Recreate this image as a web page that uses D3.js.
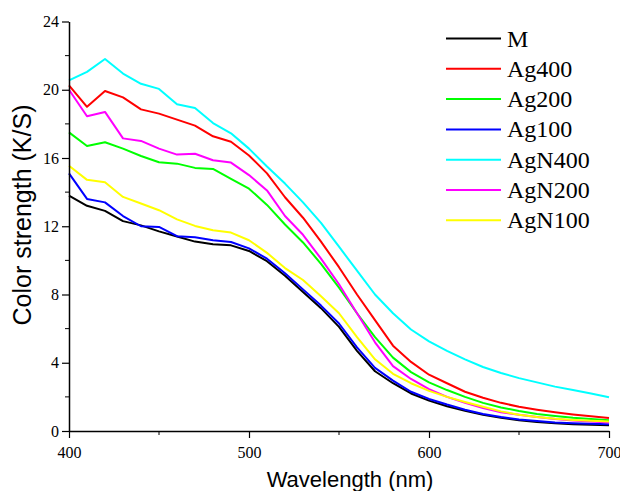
<!DOCTYPE html>
<html>
<head>
<meta charset="utf-8">
<script src="https://cdn.jsdelivr.net/npm/d3@7"></script>
<style>
  html, body { margin: 0; padding: 0; background: #fff; }
  svg { display: block; }
</style>
</head>
<body>
<svg id="chart" width="620" height="491"></svg>
<script>
const wavelengths = d3.range(400, 701, 10);

const M      = [13.8,13.2,12.9,12.3,12.05,11.7,11.4,11.1,10.95,10.88,10.55,9.95,9.1,8.15,7.2,6.1,4.7,3.5,2.8,2.2,1.78,1.45,1.18,0.95,0.77,0.63,0.52,0.45,0.4,0.36,0.33];
const Ag400  = [20.26,19.0,19.93,19.55,18.85,18.6,18.25,17.9,17.27,16.95,16.15,15.1,13.7,12.5,11.1,9.6,8.0,6.5,5.0,4.05,3.3,2.8,2.3,1.95,1.65,1.42,1.25,1.1,0.97,0.86,0.76];
const Ag200  = [17.5,16.7,16.92,16.55,16.12,15.75,15.67,15.42,15.36,14.78,14.2,13.25,12.1,11.05,9.8,8.4,6.9,5.5,4.3,3.45,2.85,2.4,2.0,1.65,1.38,1.17,1.0,0.88,0.77,0.7,0.63];
const Ag100  = [15.1,13.6,13.4,12.6,12.0,11.96,11.42,11.35,11.18,11.08,10.7,10.1,9.25,8.3,7.35,6.3,4.9,3.7,2.95,2.3,1.88,1.55,1.25,1.0,0.82,0.68,0.58,0.5,0.45,0.42,0.4];
const AgN400 = [20.55,21.05,21.8,20.95,20.35,20.05,19.15,18.93,18.05,17.45,16.55,15.5,14.5,13.4,12.2,10.8,9.4,8.0,6.9,5.95,5.25,4.7,4.2,3.75,3.4,3.1,2.85,2.6,2.4,2.2,1.98];
const AgN200 = [20.0,18.45,18.7,17.15,17.0,16.55,16.2,16.25,15.87,15.73,15.0,14.1,12.6,11.5,10.1,8.6,6.9,5.2,3.8,3.05,2.45,2.0,1.65,1.35,1.1,0.95,0.82,0.7,0.62,0.55,0.5];
const AgN100 = [15.55,14.72,14.58,13.72,13.33,12.94,12.4,12.02,11.77,11.63,11.18,10.44,9.55,8.85,7.9,6.9,5.5,4.2,3.35,2.8,2.35,2.0,1.7,1.42,1.15,0.95,0.82,0.72,0.65,0.6,0.56];

const seriesNames  = ["M","Ag400","Ag200","Ag100","AgN400","AgN200","AgN100"];
const seriesValues = [M, Ag400, Ag200, Ag100, AgN400, AgN200, AgN100];
const seriesColors = ["#000000","#ff0000","#00ff00","#0000ff","#00ffff","#ff00ff","#ffff00"];

const xMajorTicks = [400, 500, 600, 700];
const xMinorTicks = [450, 550, 650];
const yMajorTicks = [0, 4, 8, 12, 16, 20, 24];
const yMinorTicks = [2, 6, 10, 14, 18, 22];

const xTitle = "Wavelength (nm)";
const yTitle = "Color strength (K/S)";

const svg = d3.select("#chart");
const L = 69, R = 609, T = 21.5, B = 431;

const x = d3.scaleLinear().domain([400, 700]).range([L, R]);
const y = d3.scaleLinear().domain([0, 24]).range([B, T]);

const serif = "'Liberation Serif','Times New Roman',serif";
const sans = "'Liberation Sans',Arial,sans-serif";

// lines
const line = d3.line().x((d, i) => x(wavelengths[i])).y(d => y(d));
seriesValues.forEach((vals, k) => {
  svg.append("path")
    .datum(vals)
    .attr("d", line)
    .attr("fill", "none")
    .attr("stroke", seriesColors[k])
    .attr("stroke-width", 2)
    .attr("stroke-linejoin", "round");
});

// x axis
const xAxis = svg.append("g").attr("transform", `translate(0,${B})`)
  .call(d3.axisBottom(x).tickValues(xMajorTicks).tickSize(7).tickSizeOuter(0).tickFormat(d3.format("d")));
xAxis.append("g").selectAll("line").data(xMinorTicks).join("line")
  .attr("x1", d => x(d)).attr("x2", d => x(d)).attr("y1", 0).attr("y2", 4)
  .attr("stroke", "#000");

// y axis
const yAxis = svg.append("g").attr("transform", `translate(${L},0)`)
  .call(d3.axisLeft(y).tickValues(yMajorTicks).tickSize(7).tickSizeOuter(0).tickFormat(d3.format("d")));
yAxis.append("g").selectAll("line").data(yMinorTicks).join("line")
  .attr("x1", 0).attr("x2", -4).attr("y1", d => y(d)).attr("y2", d => y(d))
  .attr("stroke", "#000");

[xAxis, yAxis].forEach(g => {
  g.select(".domain").attr("stroke", "#000").attr("stroke-width", 1.5);
  g.selectAll(".tick line").attr("stroke", "#000").attr("stroke-width", 1.2);
  g.selectAll(".tick text").attr("font-family", serif).attr("font-size", 16).attr("fill", "#000");
});
xAxis.selectAll(".tick text").attr("dy", "1.05em");
yAxis.selectAll(".tick text").attr("x", -10);

// axis titles
svg.append("text")
  .attr("x", 350).attr("y", 487)
  .attr("text-anchor", "middle")
  .attr("font-family", sans).attr("font-size", 22)
  .text(xTitle);

svg.append("text")
  .attr("transform", `translate(31,215) rotate(-90)`)
  .attr("text-anchor", "middle")
  .attr("font-family", sans).attr("font-size", 25)
  .text(yTitle);

// legend
const legend = svg.append("g");
seriesNames.forEach((name, k) => {
  const ly = 38.5 + k * 30.3;
  legend.append("line")
    .attr("x1", 446).attr("x2", 501).attr("y1", ly).attr("y2", ly)
    .attr("stroke", seriesColors[k]).attr("stroke-width", 2);
  legend.append("text")
    .attr("x", 507).attr("y", ly + 8)
    .attr("font-family", serif).attr("font-size", 24)
    .text(name);
});
</script>
</body>
</html>
